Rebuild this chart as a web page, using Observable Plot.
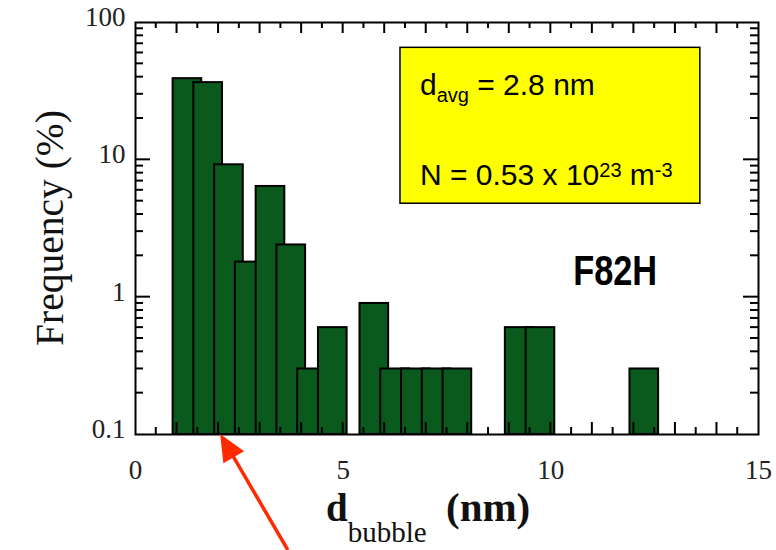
<!DOCTYPE html>
<html><head><meta charset="utf-8">
<script src="https://cdn.jsdelivr.net/npm/d3@7"></script>
<script src="https://cdn.jsdelivr.net/npm/@observablehq/plot@0.6"></script>
<style>body{margin:0;background:#fff}svg{overflow:visible}</style>
</head><body><div id="chart"></div>
<script>
// ---- data ----
const binCenters = [1.25, 1.75, 2.25, 2.75, 3.25, 3.75, 4.25, 4.75, 5.75, 6.25, 6.75, 7.25, 7.75, 9.25, 9.75, 12.25];
const frequencies = [39, 36.5, 9.2, 1.8, 6.4, 2.4, 0.3, 0.6, 0.9, 0.3, 0.3, 0.3, 0.3, 0.6, 0.6, 0.3];
const xTickValues = [0, 5, 10, 15];
const xTickLabels = ["0", "5", "10", "15"];
const yTickValues = [0.1, 1, 10, 100];
const yTickLabels = ["0.1", "1", "10", "100"];
const yTitle = "Frequency (%)";
const xTitleMain = "d", xTitleSub = "bubble", xTitleUnit = "(nm)";
const boxLine1 = ["d", "avg", " = 2.8 nm"];
const boxLine2 = ["N = 0.53 x 10", "23", " m", "-3"];
const materialLabel = "F82H";
// annotation anchors in data units
const infoBox = {x1: 6.38, x2: 13.6, y1: 4.79, y2: 65.4};
const labelAnchor = {x: 10.55, y: 1.22};
const arrowTip = {x: 2.05, y: 0.1};
const arrowTail = {x: 3.68, y: 0.0143};

// ---- layout / style ----
const W = 776, H = 550, mL = 135, mR = 18, mT = 22, mB = 116;
const barWidth = 0.69;
const serif = "'Liberation Serif','Times New Roman',serif";
const sans = "'Liberation Sans',Arial,sans-serif";

const bars = binCenters.map((c, i) => ({center: c, freq: frequencies[i]}));
const xMajor = d3.range(1, 15);
const xMinor = d3.range(0.5, 15, 1);
const yMajor = [1, 10];
const yMinor = [0.1, 1, 10].flatMap(p => d3.range(2, 10).map(k => k * p));

const plot = Plot.plot({
  width: W, height: H,
  marginLeft: mL, marginRight: mR, marginTop: mT, marginBottom: mB,
  style: {background: "#fff", color: "#000"},
  x: {domain: [0, 15]},
  y: {type: "log", domain: [0.1, 100]},
  marks: [
    Plot.rect([infoBox], {x1: "x1", x2: "x2", y1: "y1", y2: "y2", fill: "#ffff00", stroke: "#000", strokeWidth: 1.5}),
    Plot.rect(bars, {x1: d => d.center - barWidth / 2, x2: d => d.center + barWidth / 2, y1: 0.1, y2: "freq",
      fill: "#0b5a1d", stroke: "#000", strokeWidth: 2}),
    Plot.frame({stroke: "#000", strokeWidth: 2}),
    Plot.axisX(xTickValues, {tickSize: 0, tickPadding: 25, label: null,
      tickFormat: d => xTickLabels[xTickValues.indexOf(d)],
      fontSize: 27, fontFamily: serif, fill: "#222"}),
    Plot.axisY(yTickValues, {tickSize: 0, tickPadding: 10, label: null, dy: -5,
      tickFormat: d => yTickLabels[yTickValues.indexOf(d)],
      fontSize: 27, fontFamily: serif, fill: "#222"})
  ]
});
document.getElementById("chart").appendChild(plot);

const sx = plot.scale("x"), sy = plot.scale("y");
const X = v => sx.apply(v), Y = v => sy.apply(v);
const frameL = X(0), frameR = X(15), frameB = Y(0.1), frameT = Y(100);
const svg = d3.select(plot);

// inward ticks on all four sides, positioned with the plot's scales
const tg = svg.append("g").attr("stroke", "#000").attr("stroke-width", 2);
const addX = (vals, lenB, lenT) => vals.forEach(v => {
  tg.append("line").attr("x1", X(v)).attr("x2", X(v)).attr("y1", frameB).attr("y2", frameB - lenB);
  tg.append("line").attr("x1", X(v)).attr("x2", X(v)).attr("y1", frameT).attr("y2", frameT + lenT);
});
const addY = (vals, len) => vals.forEach(v => {
  tg.append("line").attr("y1", Y(v)).attr("y2", Y(v)).attr("x1", frameL).attr("x2", frameL + len);
  tg.append("line").attr("y1", Y(v)).attr("y2", Y(v)).attr("x1", frameR).attr("x2", frameR - len);
});
addX(xMajor, 12, 11);
addX(xMinor, 7, 6);
addY(yMajor, 15);
addY(yMinor, 8);

const g = svg.append("g").attr("text-anchor", "start");

// y-axis title
g.append("text")
  .attr("transform", `translate(63,${(frameT + frameB) / 2}) rotate(-90)`)
  .attr("text-anchor", "middle")
  .style("font-family", serif).style("font-size", "39.5px").attr("fill", "#111")
  .text(yTitle);

// x-axis title with subscript
const xt = g.append("text").attr("x", 326).attr("y", 521).attr("text-anchor", "start")
  .style("font-family", serif).attr("fill", "#111");
xt.append("tspan").style("font-size", "39px").style("font-weight", "bold").text(xTitleMain);
xt.append("tspan").style("font-size", "29px").attr("dy", 21).text(xTitleSub);
xt.append("tspan").style("font-size", "41px").style("font-weight", "bold").attr("x", 446).attr("dy", -21).text(xTitleUnit);

// info box text
const bx = X(infoBox.x1), by = Y(infoBox.y2);
const t1 = g.append("text").attr("x", bx + 20).attr("y", by + 48).attr("text-anchor", "start")
  .style("font-family", sans).style("font-size", "30px").attr("fill", "#000");
t1.append("tspan").text(boxLine1[0]);
t1.append("tspan").style("font-size", "20px").attr("dy", 7).text(boxLine1[1]);
t1.append("tspan").attr("dy", -7).text(boxLine1[2]);
const t2 = g.append("text").attr("x", bx + 20).attr("y", by + 138).attr("text-anchor", "start")
  .style("font-family", sans).style("font-size", "30px").attr("fill", "#000");
t2.append("tspan").text(boxLine2[0]);
t2.append("tspan").style("font-size", "20px").attr("dy", -8).text(boxLine2[1]);
t2.append("tspan").attr("dy", 8).text(boxLine2[2]);
t2.append("tspan").style("font-size", "20px").attr("dy", -8).text(boxLine2[3]);

// material label
g.append("text").attr("x", X(labelAnchor.x)).attr("y", Y(labelAnchor.y)).attr("text-anchor", "start")
  .style("font-family", "'Liberation Sans Narrow'," + sans).style("font-size", "42px").style("font-weight", "bold")
  .attr("textLength", 84).attr("lengthAdjust", "spacingAndGlyphs").attr("fill", "#000")
  .text(materialLabel);

// red arrow
const tipX = X(arrowTip.x), tipY = Y(arrowTip.y);
const tailX = X(arrowTail.x), tailY = Y(arrowTail.y);
const len = Math.hypot(tailX - tipX, tailY - tipY);
const ux = (tailX - tipX) / len, uy = (tailY - tipY) / len;
const hl = 27, hw = 12;
const baseX = tipX + ux * hl, baseY = tipY + uy * hl;
g.append("line").attr("x1", tailX).attr("y1", tailY).attr("x2", baseX - ux * 2).attr("y2", baseY - uy * 2)
  .attr("stroke", "#ff2a00").attr("stroke-width", 3.5);
g.append("path")
  .attr("d", `M${tipX},${tipY}L${baseX - uy * hw},${baseY + ux * hw}L${baseX + uy * hw},${baseY - ux * hw}Z`)
  .attr("fill", "#ff2a00");
</script>
</body></html>
